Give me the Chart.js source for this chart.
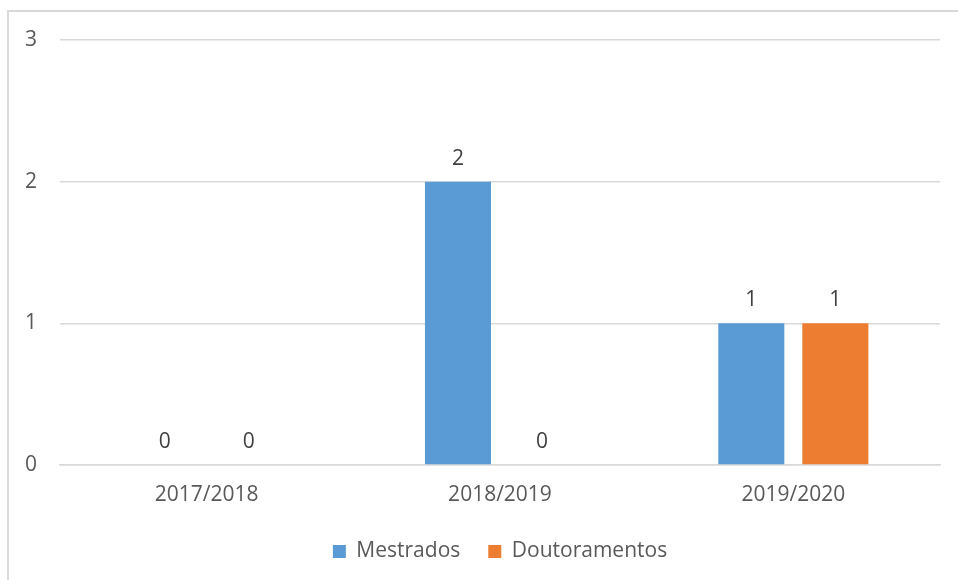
<!DOCTYPE html>
<html>
<head>
<meta charset="utf-8">
<script src="https://cdn.jsdelivr.net/npm/chart.js@4.4.0/dist/chart.umd.min.js"></script>
<style>
  html, body { margin: 0; padding: 0; background: #fff; overflow: hidden; }
  #wrap { position: absolute; left: 0; top: 0; width: 958px; height: 580px; }
  #frame { position: absolute; left: 7px; top: 10px; width: 960px; height: 600px;
           border: 2px solid #d9d9d9; pointer-events: none; }
</style>
</head>
<body>
<div id="wrap"><canvas id="chart" width="958" height="580"></canvas></div>
<div id="frame"></div>
<script>
const categories = ['2017/2018', '2018/2019', '2019/2020'];
const mestrados = [0, 2, 1];
const doutoramentos = [0, 0, 1];
const yTicks = [0, 1, 2, 3];

const textColor = '#595959';
const fontFamily = '"Open Sans", sans-serif';

// draw the value above each bar, Excel style
const valueLabels = {
    id: 'valueLabels',
    afterDatasetsDraw(chart) {
        const ctx = chart.ctx;
        ctx.save();
        ctx.font = '21px ' + fontFamily;
        ctx.fillStyle = '#404040';
        ctx.textAlign = 'center';
        ctx.textBaseline = 'middle';
        chart.data.datasets.forEach((ds, i) => {
            chart.getDatasetMeta(i).data.forEach((bar, j) => {
                ctx.fillText(String(ds.data[j]), bar.x, bar.y - 23);
            });
        });
        ctx.restore();
    }
};

new Chart(document.getElementById('chart').getContext('2d'), {
    type: 'bar',
    data: {
        labels: categories,
        datasets: [{
            label: 'Mestrados',
            data: mestrados,
            backgroundColor: '#5B9BD5'
        }, {
            label: 'Doutoramentos',
            data: doutoramentos,
            backgroundColor: '#ED7D31'
        }]
    },
    options: {
        responsive: false,
        animation: false,
        layout: { padding: { top: 40, right: 18, left: 0, bottom: 8 } },
        datasets: {
            bar: { categoryPercentage: 0.573, barPercentage: 0.786 }
        },
        scales: {
            x: {
                grid: { display: false },
                border: { display: true, color: '#d9d9d9', width: 1.5 },
                ticks: { color: textColor, font: { family: fontFamily, size: 21 }, padding: 9 },
                afterFit: (scale) => { scale.height = 48; }
            },
            y: {
                min: 0,
                max: 3,
                afterBuildTicks: (scale) => { scale.ticks = yTicks.map(v => ({ value: v })); },
                grid: { color: '#d9d9d9', lineWidth: 1.5, drawTicks: false },
                border: { display: false },
                ticks: { color: textColor, font: { family: fontFamily, size: 21 }, padding: 23 },
                afterFit: (scale) => { scale.width = 60; }
            }
        },
        plugins: {
            legend: {
                position: 'bottom',
                fullSize: false,
                labels: {
                    color: textColor,
                    font: { family: fontFamily, size: 21 },
                    boxWidth: 13,
                    boxHeight: 13,
                    padding: 28
                }
            },
            tooltip: { enabled: false }
        }
    },
    plugins: [valueLabels]
});
</script>
</body>
</html>
